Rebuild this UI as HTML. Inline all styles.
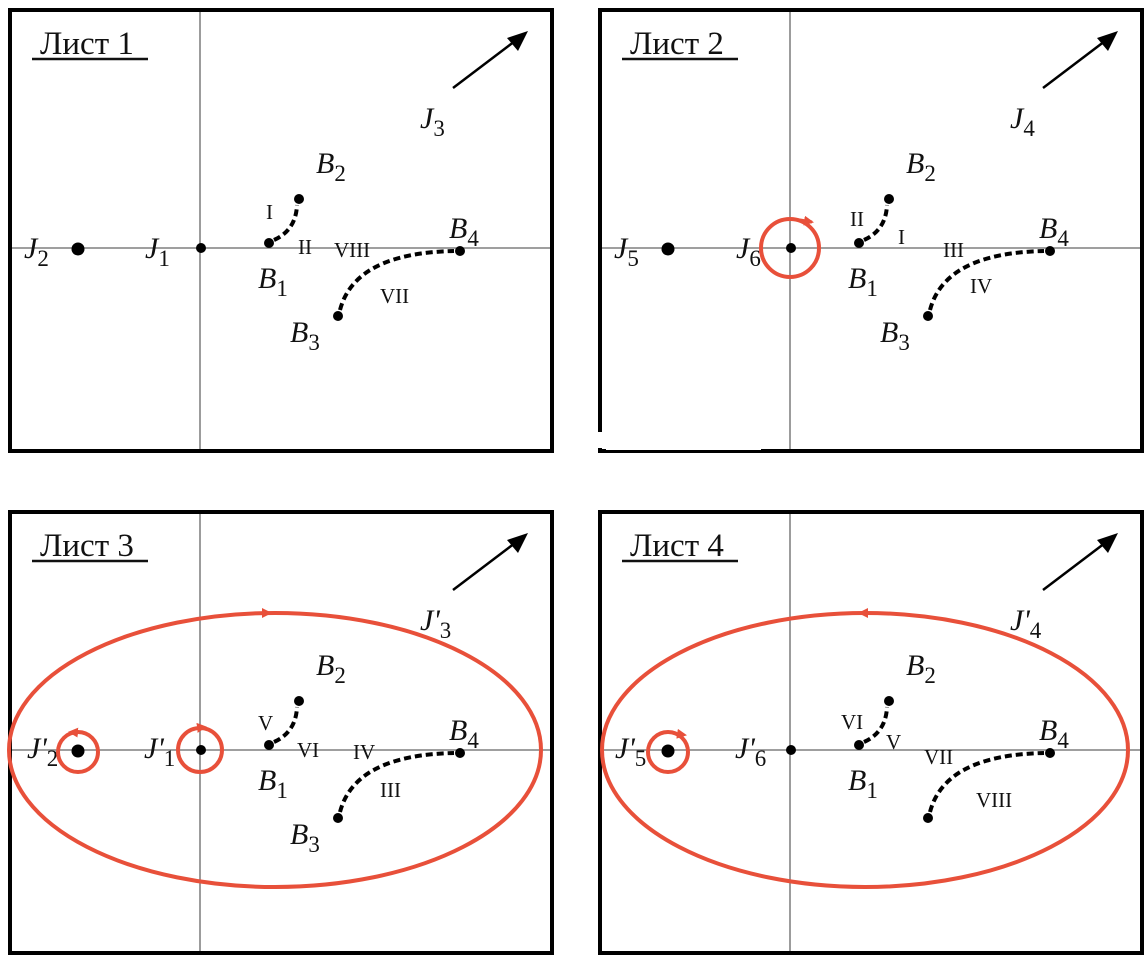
<!DOCTYPE html>
<html><head><meta charset="utf-8"><style>
html,body{margin:0;padding:0;background:#fff;}
svg{display:block;}
text{font-family:"Liberation Serif",serif;fill:#111;}
.it{font-style:italic;font-size:30px;}
.sb{font-size:23px;font-style:normal;}
.rn{font-size:21px;}
.tt{font-size:33px;}
</style></head><body>
<svg width="1148" height="961" viewBox="0 0 1148 961" xmlns="http://www.w3.org/2000/svg">
<defs>
<marker id="ah" markerWidth="10" markerHeight="10" refX="8" refY="5" orient="auto" markerUnits="userSpaceOnUse"><path d="M0,0 L10,5 L0,10 z" fill="#e8503a"/></marker>
</defs>

<g id="p1">
<rect x="10" y="10" width="542" height="441" fill="none" stroke="#000" stroke-width="4"/>
<line x1="200" y1="12" x2="200" y2="449" stroke="#666" stroke-width="1.3"/>
<line x1="12" y1="248" x2="550" y2="248" stroke="#666" stroke-width="1.3"/>
<circle cx="78" cy="249" r="6.5" fill="#000"/>
<circle cx="201" cy="248" r="5" fill="#000"/>
<circle cx="269" cy="243" r="5" fill="#000"/>
<circle cx="299" cy="199" r="5" fill="#000"/>
<circle cx="338" cy="316" r="5" fill="#000"/>
<circle cx="460" cy="251" r="5" fill="#000"/>
<path d="M274 240 Q296 230 297 205" fill="none" stroke="#000" stroke-width="4" stroke-dasharray="7 4"/>
<path d="M340 310 Q355 253 454 251" fill="none" stroke="#000" stroke-width="4" stroke-dasharray="7 4"/>
<line x1="453" y1="88" x2="515" y2="41" stroke="#000" stroke-width="2.5"/>
<path d="M528 31 L507 38 L518 51 z" fill="#000"/>
</g>
<use href="#p1" x="590" y="0"/>
<use href="#p1" x="0" y="502"/>
<use href="#p1" x="590" y="502"/>
<rect x="596" y="432" width="8" height="16" fill="#fff"/>
<rect x="606" y="448" width="155" height="2" fill="#fff"/>

<!-- Panel 1 -->
<text x="40" y="54" class="tt">Лист 1</text>
<line x1="32" y1="59" x2="148" y2="59" stroke="#111" stroke-width="2.5"/>
<text x="24" y="258" class="it">J<tspan class="sb" dy="8">2</tspan></text>
<text x="145" y="258" class="it">J<tspan class="sb" dy="8">1</tspan></text>
<text x="258" y="288" class="it">B<tspan class="sb" dy="8">1</tspan></text>
<text x="316" y="173" class="it">B<tspan class="sb" dy="8">2</tspan></text>
<text x="290" y="342" class="it">B<tspan class="sb" dy="8">3</tspan></text>
<text x="449" y="238" class="it">B<tspan class="sb" dy="8">4</tspan></text>
<text x="420" y="128" class="it">J<tspan class="sb" dy="8">3</tspan></text>
<text x="266" y="219" class="rn">I</text>
<text x="298" y="254" class="rn">II</text>
<text x="334" y="257" class="rn">VIII</text>
<text x="380" y="303" class="rn">VII</text>

<!-- Panel 2 -->
<text x="630" y="54" class="tt">Лист 2</text>
<line x1="622" y1="59" x2="738" y2="59" stroke="#111" stroke-width="2.5"/>
<text x="614" y="258" class="it">J<tspan class="sb" dy="8">5</tspan></text>
<text x="736" y="258" class="it">J<tspan class="sb" dy="8">6</tspan></text>
<text x="848" y="288" class="it">B<tspan class="sb" dy="8">1</tspan></text>
<text x="906" y="173" class="it">B<tspan class="sb" dy="8">2</tspan></text>
<text x="880" y="342" class="it">B<tspan class="sb" dy="8">3</tspan></text>
<text x="1039" y="238" class="it">B<tspan class="sb" dy="8">4</tspan></text>
<text x="1010" y="128" class="it">J<tspan class="sb" dy="8">4</tspan></text>
<text x="850" y="226" class="rn">II</text>
<text x="898" y="244" class="rn">I</text>
<text x="943" y="257" class="rn">III</text>
<text x="970" y="293" class="rn">IV</text>
<circle cx="790" cy="248" r="29" fill="none" stroke="#e8503a" stroke-width="4"/>
<path d="M800 220 L812 222" stroke="#e8503a" stroke-width="3" fill="none" marker-end="url(#ah)"/>

<!-- Panel 3 -->
<text x="40" y="556" class="tt">Лист 3</text>
<line x1="32" y1="561" x2="148" y2="561" stroke="#111" stroke-width="2.5"/>
<text x="27" y="758" class="it">J'<tspan class="sb" dy="8">2</tspan></text>
<text x="144" y="758" class="it">J'<tspan class="sb" dy="8">1</tspan></text>
<text x="258" y="790" class="it">B<tspan class="sb" dy="8">1</tspan></text>
<text x="316" y="675" class="it">B<tspan class="sb" dy="8">2</tspan></text>
<text x="290" y="844" class="it">B<tspan class="sb" dy="8">3</tspan></text>
<text x="449" y="740" class="it">B<tspan class="sb" dy="8">4</tspan></text>
<text x="420" y="630" class="it">J'<tspan class="sb" dy="8">3</tspan></text>
<text x="258" y="730" class="rn">V</text>
<text x="297" y="757" class="rn">VI</text>
<text x="353" y="759" class="rn">IV</text>
<text x="380" y="797" class="rn">III</text>
<ellipse cx="275" cy="750" rx="266" ry="137" fill="none" stroke="#e8503a" stroke-width="4"/>
<path d="M255 613 L270 613" stroke="#e8503a" stroke-width="2" fill="none" marker-end="url(#ah)"/>
<circle cx="78" cy="752" r="20" fill="none" stroke="#e8503a" stroke-width="4"/>
<path d="M84 733 L70 732" stroke="#e8503a" stroke-width="2" fill="none" marker-end="url(#ah)"/>
<circle cx="200" cy="750" r="22" fill="none" stroke="#e8503a" stroke-width="4"/>
<path d="M196 728 L205 727" stroke="#e8503a" stroke-width="2" fill="none" marker-end="url(#ah)"/>

<!-- Panel 4 -->
<text x="630" y="556" class="tt">Лист 4</text>
<line x1="622" y1="561" x2="738" y2="561" stroke="#111" stroke-width="2.5"/>
<text x="615" y="758" class="it">J'<tspan class="sb" dy="8">5</tspan></text>
<text x="735" y="758" class="it">J'<tspan class="sb" dy="8">6</tspan></text>
<text x="848" y="790" class="it">B<tspan class="sb" dy="8">1</tspan></text>
<text x="906" y="675" class="it">B<tspan class="sb" dy="8">2</tspan></text>
<text x="1039" y="740" class="it">B<tspan class="sb" dy="8">4</tspan></text>
<text x="1010" y="630" class="it">J'<tspan class="sb" dy="8">4</tspan></text>
<text x="841" y="729" class="rn">VI</text>
<text x="886" y="749" class="rn">V</text>
<text x="924" y="764" class="rn">VII</text>
<text x="976" y="807" class="rn">VIII</text>
<ellipse cx="865" cy="750" rx="263" ry="137" fill="none" stroke="#e8503a" stroke-width="4"/>
<path d="M875 613 L860 613" stroke="#e8503a" stroke-width="2" fill="none" marker-end="url(#ah)"/>
<circle cx="668" cy="752" r="20" fill="none" stroke="#e8503a" stroke-width="4"/>
<path d="M672 733 L685 735" stroke="#e8503a" stroke-width="2" fill="none" marker-end="url(#ah)"/>
</svg>
</body></html>
